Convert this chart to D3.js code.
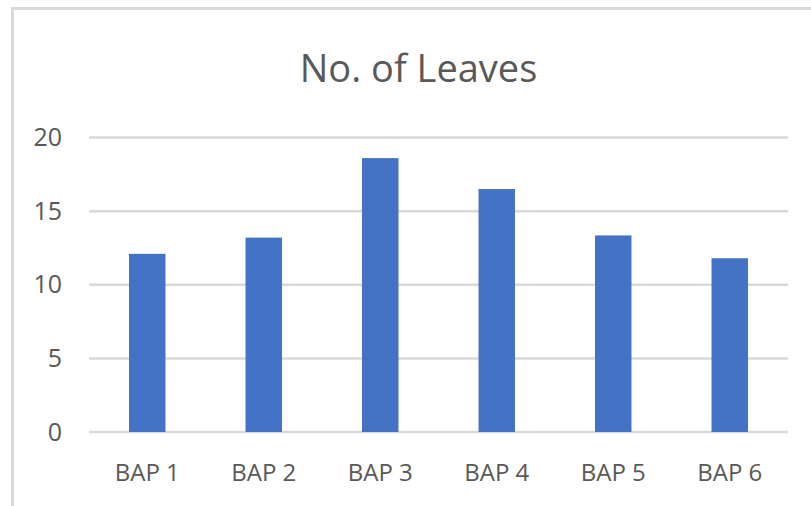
<!DOCTYPE html>
<html>
<head>
<meta charset="utf-8">
<script src="https://cdn.jsdelivr.net/npm/d3@7"></script>
<style>
  html, body { margin: 0; padding: 0; background: #fff; }
  svg { display: block; }
  text { font-family: "Open Sans", "Noto Sans", sans-serif; fill: #595959; }
</style>
</head>
<body>
<svg id="chart" width="811" height="506"></svg>
<script>
const title = "No. of Leaves";
const categories = ["BAP 1", "BAP 2", "BAP 3", "BAP 4", "BAP 5", "BAP 6"];
const values = [12.1, 13.2, 18.6, 16.5, 13.35, 11.8];
const yTicks = [0, 5, 10, 15, 20];

const svg = d3.select("#chart");
const W = 811, H = 506;
const margin = { left: 89, right: 23, top: 137.5, bottom: 74 };

// chart border (only top & left visible in the crop)
svg.append("rect")
  .attr("x", 12.5).attr("y", 8.5)
  .attr("width", 900).attr("height", 600)
  .attr("fill", "none").attr("stroke", "#d9d9d9").attr("stroke-width", 3);

const x = d3.scaleBand()
  .domain(categories)
  .range([margin.left, W - margin.right])
  .paddingInner(0.687).paddingOuter(0.3435);

const y = d3.scaleLinear()
  .domain([0, 20])
  .range([H - margin.bottom, margin.top]);

// gridlines
svg.append("g")
  .selectAll("line")
  .data(yTicks)
  .join("line")
  .attr("x1", margin.left).attr("x2", W - margin.right)
  .attr("y1", d => y(d)).attr("y2", d => y(d))
  .attr("stroke", "#d9d9d9").attr("stroke-width", 2.5);

// bars
svg.append("g")
  .selectAll("rect")
  .data(values)
  .join("rect")
  .attr("x", (d, i) => x(categories[i]))
  .attr("width", x.bandwidth())
  .attr("y", d => y(d))
  .attr("height", d => y(0) - y(d))
  .attr("fill", "#4472C4");

// y axis labels
const yAxis = d3.axisLeft(y).tickValues(yTicks).tickSize(0).tickPadding(27);
const gy = svg.append("g").attr("transform", `translate(${margin.left},0)`).call(yAxis);
gy.select(".domain").remove();
gy.selectAll("text").attr("font-size", 25).attr("fill", "#595959")
  .style("font-family", "'Open Sans', 'Noto Sans', sans-serif");

// x axis labels
const xAxis = d3.axisBottom(x).tickSize(0).tickPadding(32);
const gx = svg.append("g").attr("transform", `translate(0,${y(0)})`).call(xAxis);
gx.select(".domain").remove();
gx.selectAll("text").attr("font-size", 24).attr("fill", "#595959")
  .style("font-family", "'Open Sans', 'Noto Sans', sans-serif");

// title
svg.append("text")
  .attr("x", 418.5).attr("y", 81.5)
  .attr("text-anchor", "middle")
  .attr("font-size", 38)
  .text(title);
</script>
</body>
</html>
